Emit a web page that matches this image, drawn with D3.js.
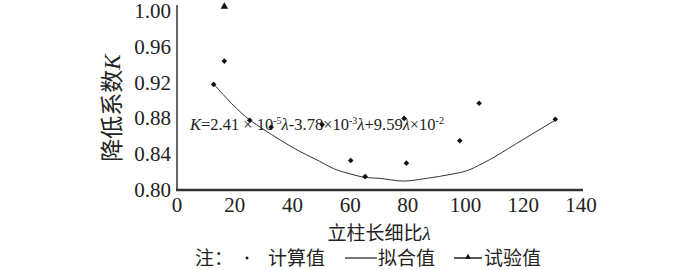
<!DOCTYPE html>
<html>
<head>
<meta charset="UTF-8">
<title>降低系数K</title>
<script src="https://cdn.jsdelivr.net/npm/d3@7"></script>
<style>
  body { margin: 0; background: #fff; }
</style>
</head>
<body>
<svg id="viz" width="700" height="270"></svg>
<script>
// calculated values (diamonds)
const calcLambda = [12.7, 16.4, 25.2, 32.6, 50.3, 60.2, 65.2, 78.7, 79.5, 98.0, 104.7, 131.1];
const calcK      = [0.918, 0.944, 0.878, 0.870, 0.873, 0.833, 0.815, 0.880, 0.830, 0.855, 0.897, 0.879];

// fitted curve
const fitLambda = [12.8, 25.3, 29.9, 35.7, 42.6, 49.5, 54.2, 60.0, 65.4, 70.3, 78.4, 86.5, 95.7, 100.0, 106.1, 117.7, 131.0];
const fitK      = [0.918, 0.878, 0.868, 0.856, 0.843, 0.832, 0.824, 0.818, 0.814, 0.813, 0.810, 0.813, 0.818, 0.821, 0.830, 0.852, 0.878];

// test value (triangle)
const testLambda = [16.4];
const testK = [1.005];

const xTicks = [0, 20, 40, 60, 80, 100, 120, 140];
const yTicks = [0.80, 0.84, 0.88, 0.92, 0.96, 1.00];

const serif = "Liberation Serif, Times New Roman, Times, serif";
const cjk = "Noto Sans CJK SC, sans-serif";

const svg = d3.select("#viz")
  .style("font-family", serif)
  .attr("fill", "#222");

const x = d3.scaleLinear().domain([0, 140]).range([177, 581]);
const y = d3.scaleLinear().domain([0.80, 1.00]).range([190, 11]);

// small square diamond marker
const diamondPath = r => `M0,${-r}L${r},0L0,${r}L${-r},0Z`;

// axes lines
svg.append("line")
  .attr("x1", 177).attr("x2", 177).attr("y1", 5).attr("y2", 190)
  .attr("stroke", "#333").attr("stroke-width", 1.5);
svg.append("line")
  .attr("x1", 176).attr("x2", 583).attr("y1", 190).attr("y2", 190)
  .attr("stroke", "#333").attr("stroke-width", 2.5);

svg.selectAll(".xtick")
  .data(xTicks)
  .join("text")
    .attr("class", "xtick")
    .attr("x", d => x(d))
    .attr("y", 212)
    .attr("font-size", 21)
    .attr("text-anchor", "middle")
    .text(d => d);

svg.selectAll(".ytick")
  .data(yTicks)
  .join("text")
    .attr("class", "ytick")
    .attr("x", 171)
    .attr("y", d => y(d) + 7)
    .attr("font-size", 21)
    .attr("text-anchor", "end")
    .text(d => d.toFixed(2));

// axis titles
const yTitle = svg.append("text")
  .attr("transform", "translate(120,108) rotate(-90)")
  .attr("text-anchor", "middle")
  .attr("font-size", 23);
yTitle.append("tspan").style("font-family", cjk).text("降低系数");
yTitle.append("tspan").attr("font-style", "italic").text("K");

const xTitle = svg.append("text")
  .attr("x", 379).attr("y", 240)
  .attr("text-anchor", "middle")
  .attr("font-size", 19);
xTitle.append("tspan").style("font-family", cjk).text("立柱长细比");
xTitle.append("tspan").attr("font-style", "italic").text("λ");

// equation
const eq = svg.append("text")
  .attr("x", 190).attr("y", 130)
  .attr("font-size", 16.5);
eq.append("tspan").attr("font-style", "italic").text("K");
eq.append("tspan").text("=2.41 × 10");
eq.append("tspan").attr("font-size", 10).attr("dy", -6).text("-5");
eq.append("tspan").attr("dy", 6).attr("font-style", "italic").text("λ");
eq.append("tspan").text("-3.78×10");
eq.append("tspan").attr("font-size", 10).attr("dy", -6).text("-3");
eq.append("tspan").attr("dy", 6).attr("font-style", "italic").text("λ");
eq.append("tspan").text("+9.59");
eq.append("tspan").attr("font-style", "italic").text("λ");
eq.append("tspan").text("×10");
eq.append("tspan").attr("font-size", 10).attr("dy", -6).text("-2");

// fitted line
const fitData = fitLambda.map((d, i) => ({ l: d, k: fitK[i] }));
svg.append("path")
  .datum(fitData)
  .attr("fill", "none")
  .attr("stroke", "#333")
  .attr("stroke-width", 1)
  .attr("d", d3.line().x(d => x(d.l)).y(d => y(d.k)).curve(d3.curveMonotoneX));

// calculated points
svg.selectAll(".calc")
  .data(calcLambda.map((d, i) => ({ l: d, k: calcK[i] })))
  .join("path")
    .attr("class", "calc")
    .attr("transform", d => `translate(${x(d.l)},${y(d.k)})`)
    .attr("d", diamondPath(2.8))
    .attr("fill", "#111");

// test points
const tri = d3.symbol().type(d3.symbolTriangle).size(24);
svg.selectAll(".test")
  .data(testLambda.map((d, i) => ({ l: d, k: testK[i] })))
  .join("path")
    .attr("class", "test")
    .attr("transform", d => `translate(${x(d.l)},${y(d.k)})`)
    .attr("d", tri)
    .attr("fill", "#111");

// legend
const lg = svg.append("g").attr("font-size", 19).style("font-family", cjk);
lg.append("text").attr("x", 195).attr("y", 265).text("注：");
lg.append("path").attr("transform", "translate(247,258)").attr("d", diamondPath(1.8)).attr("fill", "#111");
lg.append("text").attr("x", 268).attr("y", 265).text("计算值");
lg.append("line").attr("x1", 345).attr("x2", 377).attr("y1", 258).attr("y2", 258)
  .attr("stroke", "#222").attr("stroke-width", 1.2);
lg.append("text").attr("x", 378).attr("y", 265).text("拟合值");
lg.append("line").attr("x1", 454).attr("x2", 482).attr("y1", 258).attr("y2", 258)
  .attr("stroke", "#222").attr("stroke-width", 1.5);
lg.append("path").attr("transform", "translate(468,257)").attr("d", d3.symbol().type(d3.symbolTriangle).size(14)).attr("fill", "#111");
lg.append("text").attr("x", 484).attr("y", 265).text("试验值");
</script>
</body>
</html>
